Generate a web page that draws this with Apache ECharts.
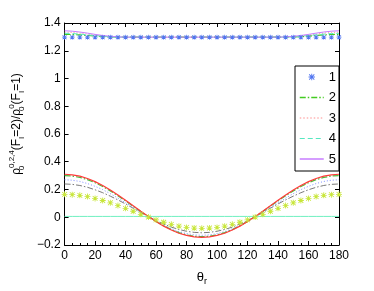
<!DOCTYPE html>
<html>
<head>
<meta charset="utf-8">
<script src="https://cdn.jsdelivr.net/npm/echarts@6/dist/echarts.min.js"></script>
<style>
html,body{margin:0;padding:0;background:#fff;}
#chart{width:374px;height:291px;}
</style>
</head>
<body>
<div id="chart"></div>
<script>
// ---- data ----
const theta = [0,5,10,15,20,25,30,35,40,45,50,55,60,65,70,75,80,85,90,95,100,105,110,115,120,125,130,135,140,145,150,155,160,165,170,175,180];
const xTicks = [0,20,40,60,80,100,120,140,160,180];
const yTicks = [-0.2,0,0.2,0.4,0.6,0.8,1,1.2,1.4];
const legendNames = ['1','2','3','4','5'];

// upper group (legend series)
const top1 = [1.298,1.298,1.298,1.298,1.298,1.298,1.298,1.298,1.298,1.298,1.298,1.298,1.298,1.298,1.298,1.298,1.298,1.298,1.298,1.298,1.298,1.298,1.298,1.298,1.298,1.298,1.298,1.298,1.298,1.298,1.298,1.298,1.298,1.298,1.298,1.298,1.298];
const top2 = [1.318,1.317,1.314,1.310,1.306,1.302,1.300,1.299,1.298,1.298,1.298,1.298,1.298,1.298,1.298,1.298,1.298,1.298,1.298,1.298,1.298,1.298,1.298,1.298,1.298,1.298,1.298,1.298,1.298,1.299,1.300,1.302,1.306,1.310,1.314,1.317,1.318];
const top3 = [1.334,1.332,1.327,1.320,1.313,1.306,1.302,1.299,1.298,1.298,1.298,1.298,1.298,1.298,1.298,1.298,1.298,1.298,1.298,1.298,1.298,1.298,1.298,1.298,1.298,1.298,1.298,1.298,1.298,1.299,1.302,1.306,1.313,1.320,1.327,1.332,1.334];
const top4 = [1.326,1.324,1.320,1.315,1.309,1.304,1.300,1.299,1.298,1.298,1.298,1.298,1.298,1.298,1.298,1.298,1.298,1.298,1.298,1.298,1.298,1.298,1.298,1.298,1.298,1.298,1.298,1.298,1.298,1.299,1.300,1.304,1.309,1.315,1.320,1.324,1.326];
const top5 = [1.344,1.341,1.335,1.327,1.318,1.310,1.304,1.300,1.298,1.298,1.298,1.298,1.298,1.298,1.298,1.298,1.298,1.298,1.298,1.298,1.298,1.298,1.298,1.298,1.298,1.298,1.298,1.298,1.298,1.300,1.304,1.310,1.318,1.327,1.335,1.341,1.344];

// lower group
const lowRed   = [0.310,0.306,0.296,0.279,0.257,0.229,0.196,0.160,0.122,0.083,0.043,0.005,-0.031,-0.064,-0.092,-0.115,-0.131,-0.142,-0.145,-0.142,-0.131,-0.115,-0.092,-0.064,-0.031,0.005,0.043,0.083,0.122,0.160,0.196,0.229,0.257,0.279,0.296,0.306,0.310];
const lowGreen = [0.300,0.297,0.287,0.271,0.249,0.221,0.190,0.155,0.118,0.080,0.042,0.005,-0.030,-0.061,-0.089,-0.111,-0.127,-0.137,-0.140,-0.137,-0.127,-0.111,-0.089,-0.061,-0.030,0.005,0.042,0.080,0.118,0.155,0.190,0.221,0.249,0.271,0.287,0.297,0.300];
const lowBlue  = [0.270,0.267,0.258,0.243,0.223,0.199,0.170,0.138,0.105,0.070,0.035,0.002,-0.030,-0.059,-0.083,-0.103,-0.118,-0.127,-0.130,-0.127,-0.118,-0.103,-0.083,-0.059,-0.030,0.002,0.035,0.070,0.105,0.138,0.170,0.199,0.223,0.243,0.258,0.267,0.270];
const lowGray  = [0.240,0.237,0.229,0.216,0.198,0.177,0.152,0.125,0.096,0.065,0.034,0.005,-0.024,-0.049,-0.071,-0.088,-0.101,-0.109,-0.112,-0.109,-0.101,-0.088,-0.071,-0.049,-0.024,0.005,0.034,0.065,0.096,0.125,0.152,0.177,0.198,0.216,0.229,0.237,0.240];
const lowStar  = [0.165,0.163,0.158,0.149,0.136,0.121,0.104,0.084,0.064,0.043,0.021,0.001,-0.019,-0.036,-0.051,-0.064,-0.073,-0.078,-0.080,-0.078,-0.073,-0.064,-0.051,-0.036,-0.019,0.001,0.021,0.043,0.064,0.084,0.104,0.121,0.136,0.149,0.158,0.163,0.165];
const lowCyan  = [0.006,0.006,0.006,0.006,0.006,0.006,0.006,0.006,0.006,0.006,0.006,0.006,0.006,0.006,0.006,0.006,0.006,0.006,0.006,0.006,0.006,0.006,0.006,0.006,0.006,0.006,0.006,0.006,0.006,0.006,0.006,0.006,0.006,0.006,0.006,0.006,0.006];

// ---- chart ----
const pairs = arr => theta.map((t, i) => [t, arr[i]]);
const STAR = 'path://M4.3,0H5.7V10H4.3Z M0,4.3H10V5.7H0Z M0.5,1.5L1.5,0.5L9.5,8.5L8.5,9.5Z M8.5,0.5L9.5,1.5L1.5,9.5L0.5,8.5Z';
const FONT = '"Liberation Sans", Arial, sans-serif';
const COLORS = { c1: '#4f74f0', c2: '#44cc22', c3: '#ff8f8f', c4: '#55e8c0', c5: '#c77cff' };

function lineSeries(name, arr, color, type, width, z) {
  return {
    name: name, type: 'line', data: pairs(arr), showSymbol: false, symbol: 'none',
    lineStyle: { color: color, width: width, type: type }, itemStyle: { color: color },
    silent: true, animation: false, z: z || 2
  };
}
function starSeries(name, arr, color, size) {
  return {
    name: name, type: 'line', data: pairs(arr), symbol: STAR, symbolSize: size,
    showSymbol: true, lineStyle: { width: 0, opacity: 0 }, itemStyle: { color: color },
    silent: true, animation: false, z: 4
  };
}

const chart = echarts.init(document.getElementById('chart'), null, { renderer: 'canvas' });
const axisCommon = {
  axisLine: { show: true, onZero: false, lineStyle: { color: '#000', width: 1 } },
  axisTick: { show: true, inside: true, length: 4, lineStyle: { color: '#000' } },
  splitLine: { show: false },
  axisLabel: { color: '#000', fontSize: 12, fontFamily: FONT }
};
const fmt = v => {
  const r = Math.round(v * 10) / 10;
  return (r < 0 ? '\u2212' + String(-r) : String(r));
};
const legendData = [
  { name: legendNames[0] },
  { name: legendNames[1], itemStyle: { opacity: 0 }, lineStyle: { color: COLORS.c2, width: 1.5, type: [6, 2, 1.5, 2] } },
  { name: legendNames[2], itemStyle: { opacity: 0 }, lineStyle: { color: COLORS.c3, width: 1.2, type: [1.5, 2] } },
  { name: legendNames[3], itemStyle: { opacity: 0 }, lineStyle: { color: COLORS.c4, width: 1.2, type: [5, 3] } },
  { name: legendNames[4], itemStyle: { opacity: 0 }, lineStyle: { color: COLORS.c5, width: 1.5, type: 'solid' } }
];

chart.setOption({
  animation: false,
  backgroundColor: '#fff',
  textStyle: { fontFamily: FONT },
  grid: { left: 55, top: 23, width: 284, height: 228, containLabel: false },
  legend: {
    data: legendData, orient: 'vertical', left: 295, top: 66,
    backgroundColor: '#fff', borderColor: '#000', borderWidth: 1, borderRadius: 0,
    padding: [4, 3, 5, 4], itemWidth: 24, itemHeight: 8, itemGap: 6.5, itemTextGap: 3,
    textStyle: { fontSize: 13, color: '#000', fontFamily: FONT, lineHeight: 14 },
    selectedMode: false
  },
  xAxis: [
    Object.assign({}, axisCommon, {
      type: 'value', min: 0, max: 180, interval: 20, position: 'bottom',
      minorTick: { show: true, splitNumber: 4, length: 2, lineStyle: { color: '#000' } },
      axisLabel: { color: '#000', fontSize: 12, fontFamily: FONT, margin: 5,
        formatter: v => xTicks.indexOf(v) >= 0 ? String(v) : '' },
      name: '{n|\u03b8}{sb|r}', nameLocation: 'middle', nameGap: 23,
      nameTextStyle: { rich: {
        n: { fontSize: 13, fontFamily: FONT, color: '#000', lineHeight: 18 },
        sb: { fontSize: 9, fontFamily: FONT, color: '#000', lineHeight: 9, verticalAlign: 'bottom' }
      } }
    }),
    Object.assign({}, axisCommon, {
      type: 'value', min: 0, max: 180, interval: 20, position: 'top',
      minorTick: { show: true, splitNumber: 4, length: 2, lineStyle: { color: '#000' } },
      axisLabel: { show: false }
    })
  ],
  yAxis: [
    Object.assign({}, axisCommon, {
      type: 'value', min: -0.2, max: 1.4, interval: 0.2, position: 'left',
      axisLabel: { color: '#000', fontSize: 12, fontFamily: FONT, margin: 4, formatter: fmt },
      name: '{n|\u03c1}{s0|0}{sp|0,2,4}{n|(F}{sb|I}{n|=2)/\u03c1}{s0|0}{sp|0}{n|(F}{sb|I}{n|=1)}',
      nameLocation: 'middle', nameRotate: 90, nameGap: 36,
      nameTextStyle: { padding: [0, 0, 0, 20], rich: {
        n: { fontSize: 12, fontFamily: FONT, color: '#000', lineHeight: 18 },
        s0: { fontSize: 8, fontFamily: FONT, color: '#000', lineHeight: 8, verticalAlign: 'bottom', width: 0, align: 'left' },
        sb: { fontSize: 8, fontFamily: FONT, color: '#000', lineHeight: 8, verticalAlign: 'bottom' },
        sp: { fontSize: 8, fontFamily: FONT, color: '#000', lineHeight: 8, verticalAlign: 'top' }
      } }
    }),
    Object.assign({}, axisCommon, {
      type: 'value', min: -0.2, max: 1.4, interval: 0.2, position: 'right',
      axisLabel: { show: false }
    })
  ],
  series: [
    starSeries('1', top1, COLORS.c1, 5),
    lineSeries('2', top2, COLORS.c2, [6, 2, 1.5, 2], 1.2),
    lineSeries('3', top3, COLORS.c3, [1, 2], 1),
    lineSeries('4', top4, COLORS.c4, [5, 3], 1),
    lineSeries('5', top5, COLORS.c5, 'solid', 1),
    lineSeries('low-cyan', lowCyan, '#6ff0c0', 'solid', 1),
    lineSeries('low-gray', lowGray, '#7a7a7a', [6, 2, 1.5, 2], 1),
    lineSeries('low-blue', lowBlue, '#8090ff', [1, 2], 1),
    lineSeries('low-green', lowGreen, '#4cbc3c', [6, 2, 1.5, 2], 1.2),
    lineSeries('low-red', lowRed, '#ff3a3a', 'solid', 1.2, 3),
    starSeries('low-star', lowStar, '#c8e63a', 6)
  ]
});
</script>
</body>
</html>
